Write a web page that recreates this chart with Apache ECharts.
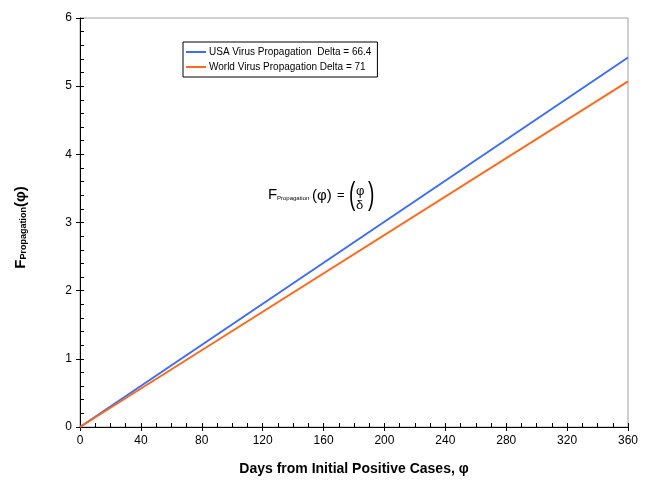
<!DOCTYPE html>
<html>
<head>
<meta charset="utf-8">
<script src="https://cdn.jsdelivr.net/npm/echarts@6/dist/echarts.min.js"></script>
<style>html,body{margin:0;padding:0;background:#fff}#c{width:651px;height:481px}</style>
</head>
<body>
<div id="c"></div>
<script>
var days = [0, 360];
var usaValues = [0, 5.42];
var worldValues = [0, 5.07];
var seriesNames = ['USA Virus Propagation  Delta = 66.4', 'World Virus Propagation Delta = 71'];
var xTitle = 'Days from Initial Positive Cases, \u03c6';

var FONT = '"Liberation Sans", Arial, sans-serif';
var chart = echarts.init(document.getElementById('c'), null, {renderer: 'canvas'});

function pts(vals) { return days.map(function (d, i) { return [d, vals[i]]; }); }

var axisCommonX = {
  type: 'value', min: 0, max: 360, interval: 40
};
var axisCommonY = {
  type: 'value', min: 0, max: 6, interval: 1
};

chart.setOption({
  backgroundColor: '#fff',
  animation: false,
  textStyle: {fontFamily: FONT},
  grid: {left: 80, right: 23, top: 18, bottom: 53, show: true, borderColor: '#a0a0a0', borderWidth: 1},
  legend: {
    orient: 'vertical', left: 183, top: 42,
    borderColor: '#000', borderWidth: 1, padding: [5, 6, 5, 3],
    itemGap: 5, itemWidth: 20, itemHeight: 2, icon: 'rect',
    textStyle: {fontFamily: FONT, fontSize: 10, color: '#000', padding: [0, 0, 0, -2]},
    data: seriesNames
  },
  xAxis: [
    Object.assign({}, axisCommonX, {
      position: 'bottom',
      axisLine: {show: true, lineStyle: {color: '#000', width: 1}},
      axisTick: {show: true, inside: false, length: 4, lineStyle: {color: '#000'}},
      minorTick: {show: true, splitNumber: 4, length: -4, lineStyle: {color: '#000'}},
      axisLabel: {color: '#000', fontSize: 12, fontFamily: FONT, margin: 8},
      splitLine: {show: false},
      name: xTitle, nameLocation: 'middle', nameGap: 35,
      nameTextStyle: {color: '#000', fontSize: 14, fontWeight: 'bold', fontFamily: FONT}
    }),
    Object.assign({}, axisCommonX, {
      position: 'bottom',
      axisLine: {show: false},
      axisTick: {show: true, inside: true, length: 4, lineStyle: {color: '#000'}},
      axisLabel: {show: false},
      splitLine: {show: false}
    })
  ],
  yAxis: [
    Object.assign({}, axisCommonY, {
      position: 'left',
      axisLine: {show: true, lineStyle: {color: '#000', width: 1}},
      axisTick: {show: true, inside: false, length: 4, lineStyle: {color: '#000'}},
      minorTick: {show: true, splitNumber: 5, length: -4, lineStyle: {color: '#000'}},
      axisLabel: {color: '#000', fontSize: 12, fontFamily: FONT, margin: 8},
      splitLine: {show: false},
      name: '{b|F}{s|Propagation}{e|(\u03c6)}', nameLocation: 'middle', nameGap: 52, nameRotate: 90,
      nameTextStyle: {
        color: '#000', fontFamily: FONT,
        rich: {
          b: {fontSize: 15, fontWeight: 'bold', fontFamily: FONT, color: '#000', verticalAlign: 'middle'},
          s: {fontSize: 9, fontWeight: 'bold', fontFamily: FONT, color: '#000', verticalAlign: 'bottom', padding: [6, 0, 0, 0]},
          e: {fontSize: 15, fontWeight: 'bold', fontFamily: FONT, color: '#000', verticalAlign: 'middle', padding: [0, 10, 0, 0]}
        }
      }
    }),
    Object.assign({}, axisCommonY, {
      position: 'left',
      axisLine: {show: false},
      axisTick: {show: true, inside: true, length: 4, lineStyle: {color: '#000'}},
      axisLabel: {show: false},
      splitLine: {show: false}
    })
  ],
  series: [
    {name: seriesNames[0], type: 'line', showSymbol: false, symbol: 'none', data: pts(usaValues),
     color: '#3f6cf5', lineStyle: {width: 2, color: '#3f6cf5'}, z: 3},
    {name: seriesNames[1], type: 'line', showSymbol: false, symbol: 'none', data: pts(worldValues),
     color: '#fb6b1f', lineStyle: {width: 2, color: '#fb6b1f'}, z: 4}
  ],
  graphic: [
    {type: 'text', left: 268, top: 187, style: {text: 'F', font: '15px ' + FONT, fill: '#000'}},
    {type: 'text', left: 277, top: 195, style: {text: 'Propagation', font: '6px ' + FONT, fill: '#000'}},
    {type: 'text', left: 312, top: 188, style: {text: '(\u03c6)', font: '15px ' + FONT, fill: '#000'}},
    {type: 'text', left: 337, top: 189, style: {text: '=', font: '13px ' + FONT, fill: '#000'}},
    {type: 'text', left: 349, top: 179, style: {text: '(', font: '32px ' + FONT, fill: '#000'}, scaleX: 0.6},
    {type: 'text', left: 356, top: 185, style: {text: '\u03c6', font: '13px ' + FONT, fill: '#000'}},
    {type: 'text', left: 356, top: 199, style: {text: '\u03b4', font: '13px ' + FONT, fill: '#000'}},
    {type: 'text', left: 368, top: 179, style: {text: ')', font: '32px ' + FONT, fill: '#000'}, scaleX: 0.6}
  ]
});
</script>
</body>
</html>
